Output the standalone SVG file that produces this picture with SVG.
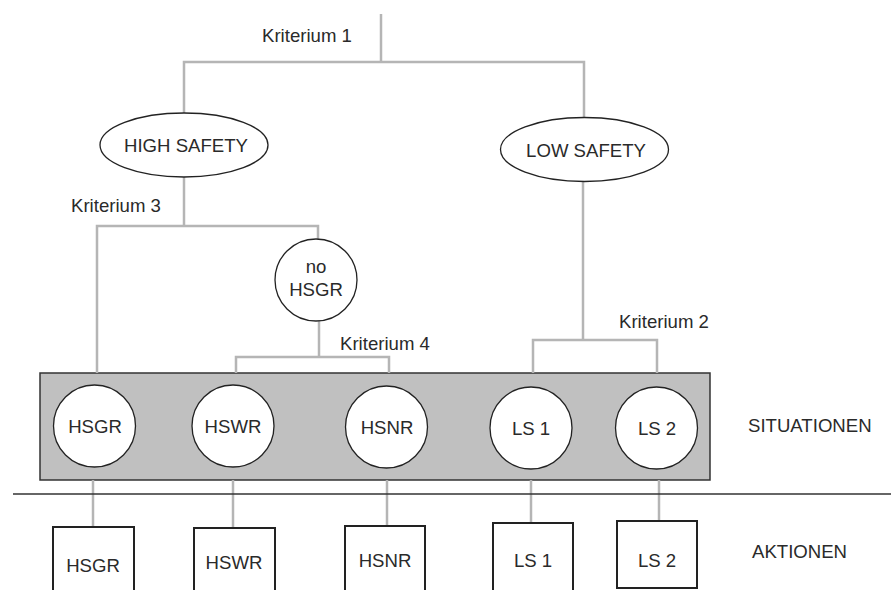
<svg xmlns="http://www.w3.org/2000/svg" width="891" height="590" viewBox="0 0 891 590">
<style>
.c{stroke:#b5b5b5;stroke-width:2.5;fill:none}
.e{fill:#fff;stroke:#222;stroke-width:1.3}
.b{fill:#fff;stroke:#222;stroke-width:2}
.t{font-family:"Liberation Sans",Arial,sans-serif;font-size:18.6px;fill:#2a2a2a;text-anchor:middle}
.l{font-family:"Liberation Sans",Arial,sans-serif;font-size:18.6px;fill:#2a2a2a}
</style>
<rect width="891" height="590" fill="#fff"/>
<g id="situationen-box">
<rect x="40" y="373" width="670" height="107" fill="#c0c0c0" stroke="#333" stroke-width="1.5"/>
</g>
<g id="connectors">
<polyline class="c" points="381,14 381,62"/>
<polyline class="c" points="184,113 184,62 584,62 584,117"/>
<polyline class="c" points="97,373 97,226 318,226 318,239"/>
<polyline class="c" points="184,177 184,226"/>
<polyline class="c" points="319,321 319,357"/>
<polyline class="c" points="236,373 236,357 389,357 389,373"/>
<polyline class="c" points="583,182 583,340"/>
<polyline class="c" points="533,373 533,340 657,340 657,373"/>
<line class="c" x1="93" y1="480" x2="93" y2="527"/>
<line class="c" x1="233" y1="480" x2="233" y2="528"/>
<line class="c" x1="387" y1="480" x2="387" y2="526"/>
<line class="c" x1="531" y1="480" x2="531" y2="523"/>
<line class="c" x1="659" y1="480" x2="659" y2="521"/>
<line x1="13" y1="494" x2="891" y2="494" stroke="#333" stroke-width="1.5"/>
</g>
<g id="labels">
<text class="l" x="262" y="42">Kriterium 1</text>
<text class="l" x="71" y="212">Kriterium 3</text>
<text class="l" x="340" y="350">Kriterium 4</text>
<text class="l" x="619" y="328">Kriterium 2</text>
<text class="l" x="748" y="432">SITUATIONEN</text>
<text class="l" x="752" y="558">AKTIONEN</text>
</g>
<g id="high-safety">
<ellipse class="e" cx="184" cy="145" rx="84" ry="32"/>
<text class="t" x="186" y="152">HIGH SAFETY</text>
</g>
<g id="low-safety">
<ellipse class="e" cx="584.5" cy="149.5" rx="84" ry="32"/>
<text class="t" x="586" y="157">LOW SAFETY</text>
</g>
<g id="no-hsgr">
<circle class="e" cx="316" cy="280" r="41"/>
<text class="t" x="316" y="273">no</text>
<text class="t" x="316" y="296">HSGR</text>
</g>
<g id="s-hsgr">
<circle class="e" cx="94.5" cy="426" r="41"/>
<text class="t" x="95" y="433">HSGR</text>
</g>
<g id="s-hswr">
<circle class="e" cx="233" cy="426" r="41"/>
<text class="t" x="233" y="433">HSWR</text>
</g>
<g id="s-hsnr">
<circle class="e" cx="386.5" cy="427" r="41"/>
<text class="t" x="387" y="434">HSNR</text>
</g>
<g id="s-ls1">
<circle class="e" cx="531" cy="428" r="41"/>
<text class="t" x="531" y="435">LS 1</text>
</g>
<g id="s-ls2">
<circle class="e" cx="656.5" cy="428" r="41"/>
<text class="t" x="657" y="435">LS 2</text>
</g>
<g id="a-hsgr">
<rect class="b" x="53" y="527" width="81" height="70"/>
<text class="t" x="93" y="572">HSGR</text>
</g>
<g id="a-hswr">
<rect class="b" x="194" y="528" width="81" height="70"/>
<text class="t" x="234" y="569">HSWR</text>
</g>
<g id="a-hsnr">
<rect class="b" x="345" y="526" width="80" height="70"/>
<text class="t" x="385" y="567">HSNR</text>
</g>
<g id="a-ls1">
<rect class="b" x="493" y="523" width="80" height="75"/>
<text class="t" x="533" y="567">LS 1</text>
</g>
<g id="a-ls2">
<rect class="b" x="617" y="521" width="80" height="67"/>
<text class="t" x="657" y="567">LS 2</text>
</g>
</svg>
